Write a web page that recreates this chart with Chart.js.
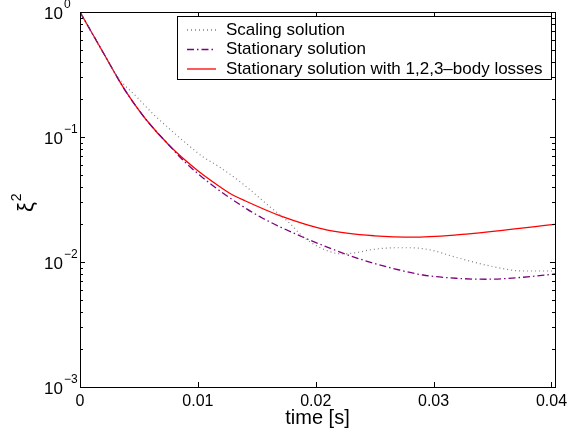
<!DOCTYPE html>
<html>
<head>
<meta charset="utf-8">
<script src="https://cdn.jsdelivr.net/npm/chart.js@4.4.1/dist/chart.umd.min.js"></script>
<style>
  html, body { margin: 0; padding: 0; background: #fff; }
</style>
</head>
<body>
<canvas id="chart" width="569" height="439"></canvas>
<script>
// series labels
const seriesNames = ['Scaling solution', 'Stationary solution', 'Stationary solution with 1,2,3\u2013body losses'];

// scaling solution (dotted)
const scalingTime = [0, 0.00195, 0.0034, 0.0048, 0.0062, 0.0076, 0.009, 0.01045, 0.0119, 0.0137, 0.0144, 0.0161, 0.0178, 0.0186, 0.0195, 0.0212, 0.0222, 0.0235, 0.0246, 0.0268, 0.028, 0.0297, 0.0319, 0.0348, 0.0376, 0.0403];
const scalingXi2 = [1, 0.470, 0.286, 0.210, 0.153, 0.116, 0.0891, 0.0692, 0.0570, 0.0430, 0.0380, 0.0277, 0.0204, 0.0170, 0.0145, 0.0121, 0.0116, 0.0119, 0.0125, 0.0130, 0.0130, 0.0125, 0.0109, 0.00929, 0.00847, 0.00847];

// stationary solution (dash-dot)
const stationaryTime = [0, 0.002, 0.0034, 0.0042, 0.0056, 0.0076, 0.0089, 0.0112, 0.0134, 0.0155, 0.0184, 0.0212, 0.024, 0.0271, 0.0291, 0.0319, 0.0345, 0.0376, 0.0403];
const stationaryXi2 = [1, 0.468, 0.275, 0.209, 0.138, 0.0851, 0.0631, 0.0413, 0.0295, 0.0224, 0.0166, 0.0129, 0.01038, 0.00863, 0.00787, 0.00741, 0.00728, 0.00755, 0.00802];

// stationary solution with losses (solid red)
const lossesTime = [0, 0.002, 0.0034, 0.0042, 0.0056, 0.0076, 0.010, 0.0119, 0.0127, 0.014, 0.017, 0.021, 0.025, 0.0285, 0.033, 0.0403];
const lossesXi2 = [1, 0.468, 0.275, 0.209, 0.138, 0.0851, 0.0537, 0.0398, 0.0355, 0.0309, 0.0234, 0.0180, 0.0162, 0.0158, 0.0168, 0.0200];

// ticks
const xTicks = [0, 0.01, 0.02, 0.03, 0.04];
const xTickLabels = ['0', '0.01', '0.02', '0.03', '0.04'];
const yTicks = [1e-3, 1e-2, 1e-1, 1];
const yTickExponents = ['\u22123', '\u22122', '\u22121', '0'];

const toPoints = (xs, ys) => xs.map((x, i) => ({ x: x, y: ys[i] }));

const lineColors = ['#808080', '#800080', '#ff0000'];
const lineDashes = [[1, 3], [7, 3, 1.5, 3], []];

const font = '"Liberation Sans", Arial, Helvetica, sans-serif';

// draws the matlab-style frame, ticks, labels and legend
const matlabAxes = {
    id: 'matlabAxes',
    afterDraw(chart) {
        const { ctx, chartArea: a, scales } = chart;
        const xs = scales.x, ys = scales.y;

        ctx.save();
        ctx.strokeStyle = '#000';
        ctx.lineWidth = 1;
        ctx.strokeRect(a.left + 0.5, a.top + 0.5, a.right - a.left, a.bottom - a.top);

        // x ticks
        ctx.beginPath();
        xTicks.forEach(v => {
            const px = Math.round(xs.getPixelForValue(v)) + 0.5;
            ctx.moveTo(px, a.bottom); ctx.lineTo(px, a.bottom - 5);
            ctx.moveTo(px, a.top); ctx.lineTo(px, a.top + 5);
        });
        // y ticks, major and minor
        yTicks.forEach((v, i) => {
            const py = Math.round(ys.getPixelForValue(v)) + 0.5;
            ctx.moveTo(a.left, py); ctx.lineTo(a.left + 5, py);
            ctx.moveTo(a.right, py); ctx.lineTo(a.right - 5, py);
            if (i < yTicks.length - 1) {
                for (let k = 2; k <= 9; k++) {
                    const pm = Math.round(ys.getPixelForValue(v * k)) + 0.5;
                    ctx.moveTo(a.left, pm); ctx.lineTo(a.left + 3, pm);
                    ctx.moveTo(a.right, pm); ctx.lineTo(a.right - 3, pm);
                }
            }
        });
        ctx.stroke();

        // x tick labels
        ctx.fillStyle = '#000';
        ctx.font = '16px ' + font;
        ctx.textAlign = 'center';
        ctx.textBaseline = 'middle';
        xTicks.forEach((v, i) => {
            ctx.fillText(xTickLabels[i], xs.getPixelForValue(v), a.bottom + 15);
        });

        // y tick labels as 10^n
        yTicks.forEach((v, i) => {
            const py = ys.getPixelForValue(v);
            ctx.font = '17px ' + font;
            ctx.textAlign = 'right';
            ctx.fillText('10', a.left - 17, py + 2);
            ctx.font = '12px ' + font;
            ctx.textAlign = 'left';
            ctx.fillText(yTickExponents[i], a.left - 16, py - 7);
        });

        // axis titles
        ctx.font = '20px ' + font;
        ctx.textAlign = 'center';
        ctx.fillText('time [s]', (a.left + a.right) / 2, a.bottom + 31);

        ctx.save();
        ctx.translate(33, 206);
        ctx.rotate(-Math.PI / 2);
        ctx.textAlign = 'left';
        ctx.textBaseline = 'alphabetic';
        ctx.font = '22px ' + font;
        ctx.fillText('\u03be', -6, 0);
        const w = ctx.measureText('\u03be').width;
        ctx.font = '14px ' + font;
        ctx.fillText('2', -6 + w + 1, -12);
        ctx.restore();

        // legend
        const lx = 177.5, ly = 16.5, lw = 374, lh = 63;
        ctx.fillStyle = '#fff';
        ctx.fillRect(lx, ly, lw, lh);
        ctx.strokeStyle = '#000';
        ctx.strokeRect(lx, ly, lw, lh);
        const rows = [30, 49.5, 69];
        seriesNames.forEach((name, i) => {
            ctx.strokeStyle = lineColors[i];
            ctx.lineWidth = 1.3;
            ctx.setLineDash(lineDashes[i]);
            ctx.beginPath();
            ctx.moveTo(187, rows[i]);
            ctx.lineTo(216, rows[i]);
            ctx.stroke();
            ctx.setLineDash([]);
            ctx.fillStyle = '#000';
            ctx.font = '17px ' + font;
            ctx.textAlign = 'left';
            ctx.textBaseline = 'middle';
            ctx.fillText(name, 226, rows[i]);
        });
        ctx.restore();
    }
};

const ctx = document.getElementById('chart').getContext('2d');
const chart = new Chart(ctx, {
    type: 'line',
    data: {
        datasets: [
            {
                label: seriesNames[0],
                data: toPoints(scalingTime, scalingXi2),
                borderColor: lineColors[0],
                borderDash: lineDashes[0],
                borderWidth: 1.2
            },
            {
                label: seriesNames[1],
                data: toPoints(stationaryTime, stationaryXi2),
                borderColor: lineColors[1],
                borderDash: lineDashes[1],
                borderWidth: 1.3
            },
            {
                label: seriesNames[2],
                data: toPoints(lossesTime, lossesXi2),
                borderColor: lineColors[2],
                borderDash: lineDashes[2],
                borderWidth: 1.3
            }
        ]
    },
    options: {
        responsive: false,
        animation: false,
        devicePixelRatio: 1,
        layout: { padding: { left: 80, right: 14, top: 12, bottom: 52 } },
        elements: {
            point: { radius: 0 },
            line: { cubicInterpolationMode: 'monotone', fill: false }
        },
        scales: {
            x: { type: 'linear', min: 0, max: 0.0403, display: false },
            y: { type: 'logarithmic', min: 0.001, max: 1, display: false }
        },
        plugins: {
            legend: { display: false },
            tooltip: { enabled: false }
        }
    },
    plugins: [matlabAxes]
});
</script>
</body>
</html>
